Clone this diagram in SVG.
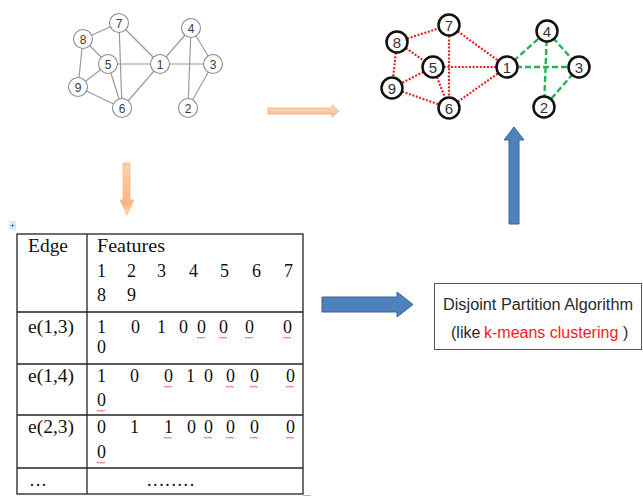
<svg xmlns="http://www.w3.org/2000/svg" xmlns:xlink="http://www.w3.org/1999/xlink" width="643" height="496" viewBox="0 0 643 496">
<style>
.le{stroke:#9a9a9a;stroke-width:1.2;fill:none}
.ln circle{fill:#fff;stroke:#8a8a8a;stroke-width:1.1}
.ln text{font-family:"Liberation Sans",Arial,sans-serif;font-size:12px;fill:#3a3a3a;text-anchor:middle}
.re{stroke:#e32222;stroke-width:2.2;stroke-dasharray:2 1.6;fill:none}
.ge{stroke:#22b550;stroke-width:2.4;stroke-dasharray:6 3;fill:none}
.rn circle{fill:#fff;stroke:#111;stroke-width:2.5}
.rn text{font-family:"Liberation Sans",Arial,sans-serif;font-size:15px;fill:#333;text-anchor:middle}
.tl{stroke:#222;stroke-width:1.3;fill:none}
.tt{font-family:"Liberation Serif","Times New Roman",serif;font-size:18px;fill:#111}
.bx{font-family:"Liberation Sans",Arial,sans-serif;font-size:16px;fill:#2a2a2a}
.blue{fill:#4f81bd;stroke:#3a639a;stroke-width:1}
</style>
<defs>
<linearGradient id="og" x1="0" y1="0" x2="0" y2="1">
<stop offset="0" stop-color="#fde3cc"/><stop offset="1" stop-color="#f9b585"/>
</linearGradient>
<linearGradient id="od" x1="0" y1="0" x2="0" y2="1">
<stop offset="0" stop-color="#fbd0ad"/><stop offset="0.8" stop-color="#f9b585"/><stop offset="1" stop-color="#fde6d4"/>
</linearGradient>
<path id="wave" d="M0 0 l1.3 1.4 l1.3 -1.4 l1.3 1.4 l1.3 -1.4 l1.3 1.4 l1.3 -1.4" fill="none" stroke="#f04a4a" stroke-width="0.9"/>
</defs>
<rect width="643" height="496" fill="#fff"/>

<g id="connectors">
<g id="left-edges">
<line class="le" x1="83" y1="39" x2="119" y2="23"/>
<line class="le" x1="83" y1="39" x2="108" y2="64"/>
<line class="le" x1="83" y1="39" x2="78" y2="87"/>
<line class="le" x1="119" y1="23" x2="122" y2="108"/>
<line class="le" x1="119" y1="23" x2="160" y2="64"/>
<line class="le" x1="108" y1="64" x2="160" y2="64"/>
<line class="le" x1="108" y1="64" x2="78" y2="87"/>
<line class="le" x1="108" y1="64" x2="122" y2="108"/>
<line class="le" x1="78" y1="87" x2="122" y2="108"/>
<line class="le" x1="122" y1="108" x2="160" y2="64"/>
<line class="le" x1="160" y1="64" x2="191" y2="28"/>
<line class="le" x1="160" y1="64" x2="213" y2="64"/>
<line class="le" x1="191" y1="28" x2="213" y2="64"/>
<line class="le" x1="191" y1="28" x2="188" y2="108"/>
<line class="le" x1="213" y1="64" x2="188" y2="108"/>
</g>
<g id="right-edges">
<line class="re" x1="397" y1="42" x2="449" y2="25"/>
<line class="re" x1="397" y1="42" x2="433" y2="67"/>
<line class="re" x1="397" y1="42" x2="392" y2="88"/>
<line class="re" x1="449" y1="25" x2="449" y2="108"/>
<line class="re" x1="449" y1="25" x2="507" y2="67"/>
<line class="re" x1="433" y1="67" x2="507" y2="67"/>
<line class="re" x1="433" y1="67" x2="392" y2="88"/>
<line class="re" x1="433" y1="67" x2="449" y2="108"/>
<line class="re" x1="392" y1="88" x2="449" y2="108"/>
<line class="re" x1="449" y1="108" x2="507" y2="67"/>
<line class="ge" x1="507" y1="67" x2="547" y2="31"/>
<line class="ge" x1="507" y1="67" x2="579" y2="67"/>
<line class="ge" x1="547" y1="31" x2="579" y2="67"/>
<line class="ge" x1="547" y1="31" x2="544" y2="107"/>
<line class="ge" x1="579" y1="67" x2="544" y2="107"/>
</g>
<polygon id="arrow-orange-right" points="268,108 332,108 332,105 339,111 332,117 332,114 268,114" fill="url(#og)" stroke="#f3a86f" stroke-width="0.8"/>
<polygon id="arrow-orange-down" points="123,163 130,163 130,200 134,200 127,215 120,200 123,200" fill="url(#od)" stroke="#f6b98c" stroke-width="0.8"/>
<polygon id="arrow-blue-right" class="blue" points="322,297 397,297 397,292 413,304.5 397,317 397,312 322,312"/>
<polygon id="arrow-blue-up" class="blue" points="509,224 509,140 504,140 514,127 524,140 519,140 519,224"/>
</g>

<g id="left-graph" class="ln">
<g id="L7"><circle cx="119" cy="23" r="9.5"/><text x="119" y="27.5">7</text></g>
<g id="L8"><circle cx="83" cy="39" r="9.5"/><text x="83" y="43.5">8</text></g>
<g id="L5"><circle cx="108" cy="64" r="9.5"/><text x="108" y="68.5">5</text></g>
<g id="L9"><circle cx="78" cy="87" r="9.5"/><text x="78" y="91.5">9</text></g>
<g id="L6"><circle cx="122" cy="108" r="9.5"/><text x="122" y="112.5">6</text></g>
<g id="L1"><circle cx="160" cy="64" r="9.5"/><text x="160" y="68.5">1</text></g>
<g id="L4"><circle cx="191" cy="28" r="9.5"/><text x="191" y="32.5">4</text></g>
<g id="L3"><circle cx="213" cy="64" r="9.5"/><text x="213" y="68.5">3</text></g>
<g id="L2"><circle cx="188" cy="108" r="9.5"/><text x="188" y="112.5">2</text></g>
</g>

<g id="right-graph" class="rn">
<g id="R7"><circle cx="449" cy="25" r="10.5"/><text x="449" y="30.5">7</text></g>
<g id="R8"><circle cx="397" cy="42" r="10.5"/><text x="397" y="47.5">8</text></g>
<g id="R5"><circle cx="433" cy="67" r="10.5"/><text x="433" y="72.5">5</text></g>
<g id="R9"><circle cx="392" cy="88" r="10.5"/><text x="392" y="93.5">9</text></g>
<g id="R6"><circle cx="449" cy="108" r="10.5"/><text x="449" y="113.5">6</text></g>
<g id="R1"><circle cx="507" cy="67" r="10.5"/><text x="507" y="72.5">1</text></g>
<g id="R4"><circle cx="547" cy="31" r="10.5"/><text x="547" y="36.5">4</text></g>
<g id="R3"><circle cx="579" cy="67" r="10.5"/><text x="579" y="72.5">3</text></g>
<g id="R2"><circle cx="544" cy="107" r="10.5"/><text x="544" y="112.5">2</text></g>
</g>

<g id="feature-table">
<g id="table-handle">
<rect x="9.5" y="221.5" width="6" height="8" fill="#eef2f8" stroke="#aab6c8" stroke-width="0.6" stroke-dasharray="1 1"/>
<path d="M10.5 225.5 h4 M12.5 223.5 v4" stroke="#3a6fc4" stroke-width="0.9"/>
</g>
<rect class="tl" x="17" y="234" width="286" height="260"/>
<line class="tl" x1="87" y1="234" x2="87" y2="494"/>
<line class="tl" x1="17" y1="312" x2="303" y2="312"/>
<line class="tl" x1="17" y1="364" x2="303" y2="364"/>
<line class="tl" x1="17" y1="415" x2="303" y2="415"/>
<line class="tl" x1="17" y1="468" x2="303" y2="468"/>
<line x1="303" y1="495.5" x2="311" y2="495.5" stroke="#bbb" stroke-width="1"/>
<g class="tt">
<text x="28" y="252" textLength="40" lengthAdjust="spacingAndGlyphs">Edge</text>
<text x="97" y="252" textLength="68" lengthAdjust="spacingAndGlyphs">Features</text>
<text y="277"><tspan x="97">1</tspan><tspan x="127">2</tspan><tspan x="157">3</tspan><tspan x="189">4</tspan><tspan x="220">5</tspan><tspan x="252">6</tspan><tspan x="284">7</tspan></text>
<text y="301"><tspan x="97">8</tspan><tspan x="127">9</tspan></text>
<text x="28" y="333" textLength="46" lengthAdjust="spacingAndGlyphs">e(1,3)</text>
<text y="333"><tspan x="97">1</tspan><tspan x="131">0</tspan><tspan x="157">1</tspan><tspan x="179">0</tspan><tspan x="197">0</tspan><tspan x="219">0</tspan><tspan x="245">0</tspan><tspan x="283">0</tspan></text>
<text x="97" y="353">0</text>
<text x="28" y="382" textLength="46" lengthAdjust="spacingAndGlyphs">e(1,4)</text>
<text y="382"><tspan x="97">1</tspan><tspan x="130">0</tspan><tspan x="164">0</tspan><tspan x="186">1</tspan><tspan x="204">0</tspan><tspan x="226">0</tspan><tspan x="250">0</tspan><tspan x="286">0</tspan></text>
<text x="97" y="406">0</text>
<text x="28" y="433" textLength="46" lengthAdjust="spacingAndGlyphs">e(2,3)</text>
<text y="433"><tspan x="97">0</tspan><tspan x="130">1</tspan><tspan x="164">1</tspan><tspan x="187">0</tspan><tspan x="204">0</tspan><tspan x="226">0</tspan><tspan x="250">0</tspan><tspan x="286">0</tspan></text>
<text x="97" y="458">0</text>
<text x="29" y="486">…</text>
<text x="147" y="486" letter-spacing="1.6">........</text>
</g>
<g id="spell-marks">
<use xlink:href="#wave" x="197" y="337"/>
<use xlink:href="#wave" x="219" y="337"/>
<use xlink:href="#wave" x="245" y="337"/>
<use xlink:href="#wave" x="283" y="337"/>
<use xlink:href="#wave" x="164" y="386"/>
<use xlink:href="#wave" x="226" y="386"/>
<use xlink:href="#wave" x="250" y="386"/>
<use xlink:href="#wave" x="286" y="386"/>
<use xlink:href="#wave" x="97" y="410"/>
<use xlink:href="#wave" x="164" y="437"/>
<use xlink:href="#wave" x="204" y="437"/>
<use xlink:href="#wave" x="226" y="437"/>
<use xlink:href="#wave" x="250" y="437"/>
<use xlink:href="#wave" x="286" y="437"/>
<use xlink:href="#wave" x="97" y="462"/>
</g>
</g>

<g id="partition-box">
<rect x="434.5" y="283.5" width="207" height="66" fill="#fff" stroke="#555" stroke-width="1"/>
<text class="bx" x="538" y="310" text-anchor="middle" textLength="190" lengthAdjust="spacingAndGlyphs">Disjoint Partition Algorithm</text>
<text class="bx" x="451" y="338">(like</text>
<text class="bx" x="484" y="338" style="fill:#ff1a1a">k-means clustering</text>
<text class="bx" x="623" y="338">)</text>
</g>
</svg>
